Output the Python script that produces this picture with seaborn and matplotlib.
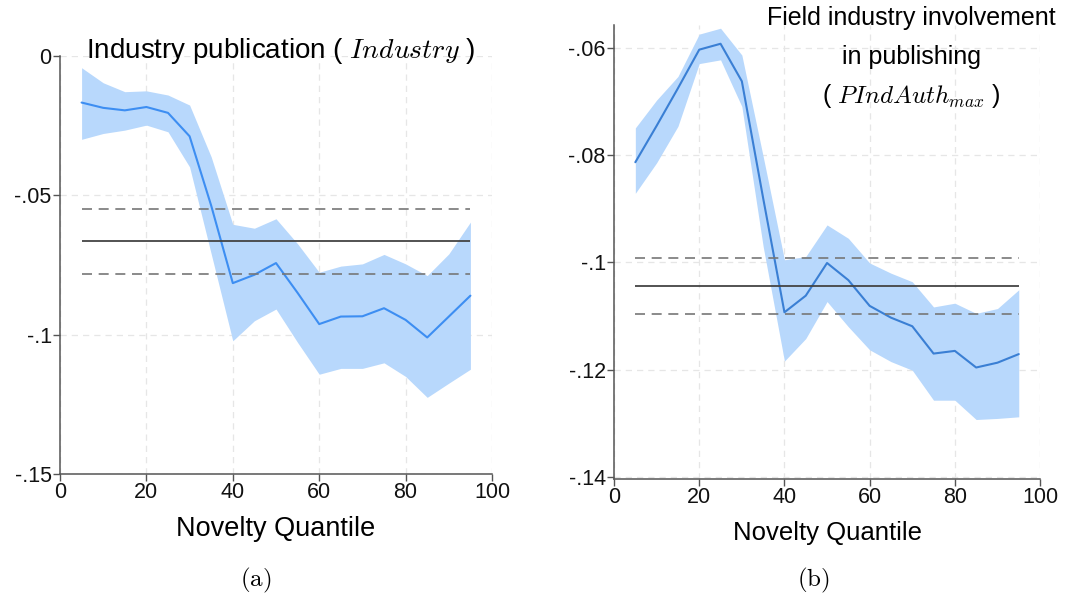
import matplotlib
matplotlib.use("Agg")
import matplotlib.pyplot as plt
import seaborn as sns
import pandas as pd

# Novelty quantiles (5 .. 95)
quantiles = [5, 10, 15, 20, 25, 30, 35, 40, 45, 50, 55, 60, 65, 70, 75, 80, 85, 90, 95]

# (a) Industry publication
ind_coef = [-0.0167, -0.0186, -0.0195, -0.0183, -0.0204, -0.0288, -0.0537, -0.0815, -0.0785, -0.0743,
            -0.0850, -0.0962, -0.0935, -0.0934, -0.0905, -0.0947, -0.1010, -0.0935, -0.0860]
ind_hi = [-0.0042, -0.0096, -0.0128, -0.0125, -0.0140, -0.0176, -0.0362, -0.0604, -0.0618, -0.0584,
          -0.0674, -0.0776, -0.0754, -0.0746, -0.0712, -0.0746, -0.0788, -0.0710, -0.0596]
ind_lo = [-0.0299, -0.0278, -0.0266, -0.0248, -0.0272, -0.0398, -0.0710, -0.1022, -0.0950, -0.0908,
          -0.1028, -0.1142, -0.1121, -0.1121, -0.1101, -0.1150, -0.1225, -0.1174, -0.1124]
ind_mean = -0.0664
ind_mean_ci = [-0.0548, -0.0782]

# (b) Field industry involvement in publishing
pia_coef = [-0.0813, -0.0745, -0.0675, -0.0603, -0.0592, -0.0662, -0.0880, -0.1093, -0.1062, -0.1001,
            -0.1033, -0.1081, -0.1103, -0.1119, -0.1170, -0.1165, -0.1196, -0.1187, -0.1171]
pia_hi = [-0.0749, -0.0697, -0.0653, -0.0574, -0.0563, -0.0613, -0.0802, -0.0995, -0.0989, -0.0930,
          -0.0955, -0.1001, -0.1020, -0.1036, -0.1083, -0.1076, -0.1095, -0.1086, -0.1051]
pia_lo = [-0.0871, -0.0814, -0.0746, -0.0629, -0.0622, -0.0709, -0.0970, -0.1184, -0.1142, -0.1073,
          -0.1120, -0.1163, -0.1185, -0.1201, -0.1257, -0.1257, -0.1293, -0.1291, -0.1288]
pia_mean = -0.1044
pia_mean_ci = [-0.0991, -0.1097]

sns.set_style("white")
plt.rcParams['font.family'] = ['Liberation Sans', 'DejaVu Sans']
plt.rcParams['mathtext.fontset'] = 'cm'
plt.rcParams['text.color'] = 'black'
plt.rcParams['axes.labelcolor'] = 'black'
plt.rcParams['xtick.color'] = 'black'
plt.rcParams['ytick.color'] = 'black'

band_color = '#b8d8fc'
spine_color = '#555555'


def draw_panel(ax, coef, lo, hi, mean, mean_ci, line_color, yticks, yticklabels, ylim, xlabel_size):
    df = pd.DataFrame({'q': quantiles, 'coef': coef, 'lo': lo, 'hi': hi})
    ax.fill_between(df['q'], df['lo'], df['hi'], color=band_color, linewidth=0, zorder=1)
    sns.lineplot(data=df, x='q', y='coef', ax=ax, color=line_color, linewidth=1.5, zorder=3)
    ax.hlines(mean, quantiles[0], quantiles[-1], color='#444444', linewidth=1.3, zorder=4)
    ax.hlines(mean_ci, quantiles[0], quantiles[-1], color='#777777', linewidth=1.2,
              linestyles=(0, (6, 4)), zorder=4)
    ax.set_xlim(0, 100)
    ax.set_ylim(*ylim)
    ax.set_xticks([0, 20, 40, 60, 80, 100])
    ax.set_yticks(yticks)
    ax.set_yticklabels(yticklabels)
    ax.grid(True, color='#e6e6e6', linestyle=(0, (5, 4)), linewidth=0.9, zorder=0)
    ax.set_axisbelow(True)
    for side in ['top', 'right']:
        ax.spines[side].set_visible(False)
    for side in ['left', 'bottom']:
        ax.spines[side].set_color(spine_color)
        ax.spines[side].set_linewidth(1.1)
    ax.tick_params(axis='both', direction='out', length=5, width=1, color=spine_color,
                   labelsize=15.5, pad=1, left=True, bottom=True, labelcolor='#111111')
    ax.set_xlabel('Novelty Quantile', fontsize=xlabel_size, labelpad=9)
    ax.set_ylabel('')


fig = plt.figure(figsize=(10.75, 6.01), dpi=100)
ax_a = fig.add_axes([0.0558, 0.2113, 0.4019, 0.6955])
ax_b = fig.add_axes([0.5712, 0.2030, 0.3963, 0.7554])

draw_panel(ax_a, ind_coef, ind_lo, ind_hi, ind_mean, ind_mean_ci, '#3d8ef2',
           [-0.15, -0.1, -0.05, 0], ['-.15', '-.1', '-.05', '0'], (-0.15, 0), 19.5)
draw_panel(ax_b, pia_coef, pia_lo, pia_hi, pia_mean, pia_mean_ci, '#3a7fd4',
           [-0.14, -0.12, -0.1, -0.08, -0.06], ['-.14', '-.12', '-.1', '-.08', '-.06'],
           (-0.1404, -0.0557), 18.5)

fig.text(0.261, 0.915, r'Industry publication ( $Industry$ )', ha='center', va='center', fontsize=20)
fig.text(0.848, 0.97, 'Field industry involvement', ha='center', va='center', fontsize=18)
fig.text(0.848, 0.905, 'in publishing', ha='center', va='center', fontsize=18)
fig.text(0.848, 0.84, r'( $PIndAuth_{max}$ )', ha='center', va='center', fontsize=18)

fig.text(0.238, 0.035, r'$\mathrm{(a)}$', ha='center', va='center', fontsize=18)
fig.text(0.757, 0.035, r'$\mathrm{(b)}$', ha='center', va='center', fontsize=18)

fig.savefig('out.png', dpi=100, facecolor='white')
